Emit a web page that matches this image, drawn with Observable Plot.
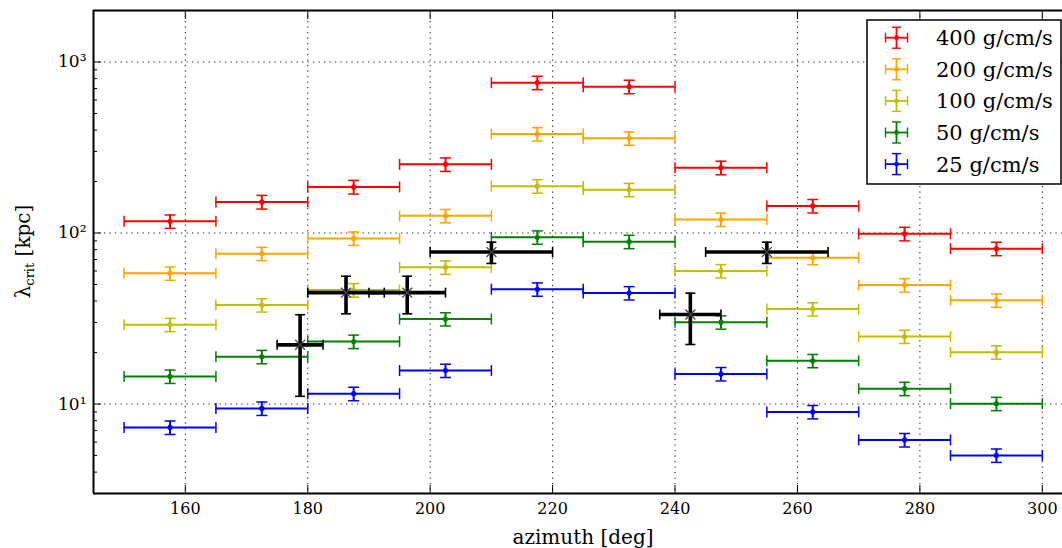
<!DOCTYPE html>
<html><head><meta charset="utf-8">
<script src="https://cdn.jsdelivr.net/npm/d3@7"></script>
<script src="https://cdn.jsdelivr.net/npm/@observablehq/plot@0.6"></script>
<style>
html,body{margin:0;padding:0;background:#fff;}
#chart svg{display:block;}
#chart svg, #chart svg text{font-family:"DejaVu Serif",serif !important;}
</style></head><body><div id="chart"></div>
<script>
// ---------- data ----------
const binCenters = [157.5, 172.5, 187.5, 202.5, 217.5, 232.5, 247.5, 262.5, 277.5, 292.5];
const binHalfWidths = [7.5, 7.5, 7.5, 7.5, 7.5, 7.5, 7.5, 7.5, 7.5, 7.5];

const seriesLabels = ["400 g/cm/s", "200 g/cm/s", "100 g/cm/s", "50 g/cm/s", "25 g/cm/s"];
const seriesColors = ["#ff0000", "#ffa500", "#bfbf00", "#008000", "#0000ff"];

const lambda400 = [117, 152, 186, 252, 757, 717, 241, 144, 99, 81];
const err400    = [10.5, 14, 17, 23, 68, 65, 22, 13, 9, 7.3];
const lambda200 = [58.1, 75.7, 93, 126, 379, 358, 120, 71.7, 49.6, 40.4];
const err200    = [5.2, 6.8, 8.4, 11.3, 34, 32, 10.8, 6.5, 4.5, 3.6];
const lambda100 = [29.1, 37.9, 46.4, 63, 188, 179, 60, 35.9, 24.8, 20.1];
const err100    = [2.6, 3.4, 4.2, 5.7, 17, 16, 5.4, 3.2, 2.2, 1.8];
const lambda50  = [14.5, 18.9, 23.2, 31.4, 94.4, 89, 30.1, 17.9, 12.3, 10.05];
const err50     = [1.3, 1.7, 2.1, 2.8, 8.5, 8, 2.7, 1.6, 1.1, 0.9];
const lambda25  = [7.3, 9.43, 11.5, 15.7, 46.9, 44.6, 15.0, 9.0, 6.17, 5.01];
const err25     = [0.66, 0.85, 1.04, 1.4, 4.2, 4.0, 1.35, 0.81, 0.56, 0.45];

const obsAzimuth    = [178.75, 186.25, 196.25, 210, 242.5, 255];
const obsAzimuthErr = [3.75, 6.25, 6.25, 10, 5, 10];
const obsLambda     = [22.2, 44.8, 44.8, 77.4, 33.4, 77.4];
const obsLambdaErr  = [11.1, 11.1, 11.1, 11, 11.1, 11];

const xTicks = [160, 180, 200, 220, 240, 260, 280, 300];
const yTicks = [10, 100, 1000];
const yTickLabels = ["10\u00B9", "10\u00B2", "10\u00B3"];
const yMinorTicks = [3,4,5,6,7,8,9,20,30,40,50,60,70,80,90,200,300,400,500,600,700,800,900];
const xLabel = "azimuth [deg]";
const yLabelMain = "\u03BB";
const yLabelSub = "crit";
const yLabelUnit = " [kpc]";

// ---------- build tables ----------
const seriesValues = [lambda400, lambda200, lambda100, lambda50, lambda25];
const seriesErrors = [err400, err200, err100, err50, err25];
const rows = [];
seriesValues.forEach((vals, s) => vals.forEach((v, j) => rows.push({
  s, color: seriesColors[s], x: binCenters[j], xe: binHalfWidths[j], y: v, ye: seriesErrors[s][j]
})));
const obs = obsAzimuth.map((x, i) => ({x, xe: obsAzimuthErr[i], y: obsLambda[i], ye: obsLambdaErr[i]}));

// custom cap symbols
const vCap = {draw(ctx, size) { const h = Math.sqrt(size / Math.PI); ctx.moveTo(0, -h); ctx.lineTo(0, h); }};
const hCap = {draw(ctx, size) { const h = Math.sqrt(size / Math.PI); ctx.moveTo(-h, 0); ctx.lineTo(h, 0); }};
const xMark = {draw(ctx, size) { const h = Math.sqrt(size / Math.PI) * 0.7071; ctx.moveTo(-h, -h); ctx.lineTo(h, h); ctx.moveTo(-h, h); ctx.lineTo(h, -h); }};

const W = 1062, H = 548, mL = 93, mT = 10, mB = 55;
const pxPerDeg = (1042 - 185) / 140;
const FONT = "'DejaVu Serif', serif";

function errorMarks(data, stroke, lw, capR, capW) {
  return [
    Plot.ruleY(data, {y: "y", x1: d => d.x - d.xe, x2: d => d.x + d.xe, stroke, strokeWidth: lw}),
    Plot.ruleX(data, {x: "x", y1: d => d.y - d.ye, y2: d => d.y + d.ye, stroke, strokeWidth: lw}),
    Plot.dot(data, {x: d => d.x - d.xe, y: "y", symbol: vCap, r: capR, stroke, strokeWidth: capW, fill: "none"}),
    Plot.dot(data, {x: d => d.x + d.xe, y: "y", symbol: vCap, r: capR, stroke, strokeWidth: capW, fill: "none"}),
    Plot.dot(data, {x: "x", y: d => d.y - d.ye, symbol: hCap, r: capR, stroke, strokeWidth: capW, fill: "none"}),
    Plot.dot(data, {x: "x", y: d => d.y + d.ye, symbol: hCap, r: capR, stroke, strokeWidth: capW, fill: "none"})
  ];
}

const colorMarks = [];
seriesColors.forEach((c, s) => {
  const d = rows.filter(r => r.s === s);
  colorMarks.push(...errorMarks(d, c, 2, 5.5, 1.5));
  colorMarks.push(Plot.dot(d, {x: "x", y: "y", r: 2.6, fill: c, stroke: "none"}));
});

const chart = Plot.plot({
  width: W, height: H,
  marginLeft: mL, marginRight: 0, marginTop: mT, marginBottom: mB,
  style: {fontFamily: FONT, background: "#fff", color: "#000"},
  x: {domain: [145, 305], range: [mL, mL + 160 * pxPerDeg]},
  y: {type: "log", domain: [3, 2000], range: [H - mB, mT]},
  marks: [
    // grid
    Plot.ruleX(xTicks, {stroke: "#000", strokeWidth: 1.1, strokeDasharray: "1.3,4.2", strokeOpacity: 0.85}),
    Plot.ruleY(yTicks, {stroke: "#000", strokeWidth: 1.1, strokeDasharray: "1.3,4.2", strokeOpacity: 0.85}),
    ...colorMarks,
    ...errorMarks(obs, "#000", 3.6, 5, 1.6),
    Plot.dot(obs, {x: "x", y: "y", symbol: xMark, r: 7, stroke: "#444", strokeWidth: 1.3, fill: "none"}),
    // frame
    Plot.ruleX([145], {stroke: "#000", strokeWidth: 2}),
    Plot.ruleY([3, 2000], {stroke: "#000", strokeWidth: 2}),
    // ticks (inward)
    Plot.axisX({ticks: xTicks, anchor: "bottom", tickSize: -8, text: null, label: null}),
    Plot.axisX({ticks: xTicks, anchor: "top", tickSize: -8, text: null, label: null}),
    Plot.axisY({ticks: yTicks, anchor: "left", tickSize: -8, text: null, label: null}),
    Plot.axisY({ticks: yMinorTicks, anchor: "left", tickSize: -4, text: null, label: null}),
    // tick labels
    Plot.axisX({ticks: xTicks, anchor: "bottom", tickSize: 0, tickPadding: 9, tickFormat: d => String(d), fontSize: 16, label: null}),
    Plot.axisY({ticks: yTicks, anchor: "left", tickSize: 0, tickPadding: 7, tickFormat: d => yTickLabels[yTicks.indexOf(d)], fontSize: 17, label: null}),
    // x axis label
    Plot.text([xLabel], {frameAnchor: "bottom", dx: 5, dy: 50, lineAnchor: "bottom", fontSize: 20})
  ]
});

document.getElementById("chart").appendChild(chart);

// y axis label with subscript
const svg = d3.select(chart);
const yl = svg.append("text")
  .attr("transform", `translate(30,${(mT + H - mB) / 2}) rotate(-90)`)
  .attr("text-anchor", "middle")
  .attr("font-size", 20)
  .attr("fill", "#000");
yl.append("tspan").text(yLabelMain);
yl.append("tspan").attr("font-size", 13).attr("dy", 4).text(yLabelSub);
yl.append("tspan").attr("dy", -4).text(yLabelUnit);

// legend
const lg = svg.append("g");
lg.append("rect").attr("x", 867).attr("y", 20).attr("width", 194).attr("height", 164)
  .attr("fill", "#fff").attr("stroke", "#000").attr("stroke-width", 1.5);
seriesLabels.forEach((lab, i) => {
  const cy = 37.7 + i * 31.6, cx = 896.5, c = seriesColors[i];
  const g = lg.append("g").attr("stroke", c).attr("stroke-width", 1.8);
  g.append("line").attr("x1", cx - 11).attr("x2", cx + 11).attr("y1", cy).attr("y2", cy);
  g.append("line").attr("x1", cx).attr("x2", cx).attr("y1", cy - 10.5).attr("y2", cy + 10.5);
  g.append("line").attr("x1", cx - 11).attr("x2", cx - 11).attr("y1", cy - 5).attr("y2", cy + 5).attr("stroke-width", 1.4);
  g.append("line").attr("x1", cx + 11).attr("x2", cx + 11).attr("y1", cy - 5).attr("y2", cy + 5).attr("stroke-width", 1.4);
  g.append("line").attr("x1", cx - 4.5).attr("x2", cx + 4.5).attr("y1", cy - 10.5).attr("y2", cy - 10.5).attr("stroke-width", 1.4);
  g.append("line").attr("x1", cx - 4.5).attr("x2", cx + 4.5).attr("y1", cy + 10.5).attr("y2", cy + 10.5).attr("stroke-width", 1.4);
  lg.append("circle").attr("cx", cx).attr("cy", cy).attr("r", 2.4).attr("fill", c);
  lg.append("text").attr("x", 936).attr("y", cy).attr("dy", "0.36em")
    .attr("text-anchor", "start").attr("font-size", 21).attr("fill", "#000").text(lab);
});

// make sure every text uses the serif face
svg.selectAll("text, tspan").attr("font-family", FONT).style("font-family", FONT);
</script></body></html>
